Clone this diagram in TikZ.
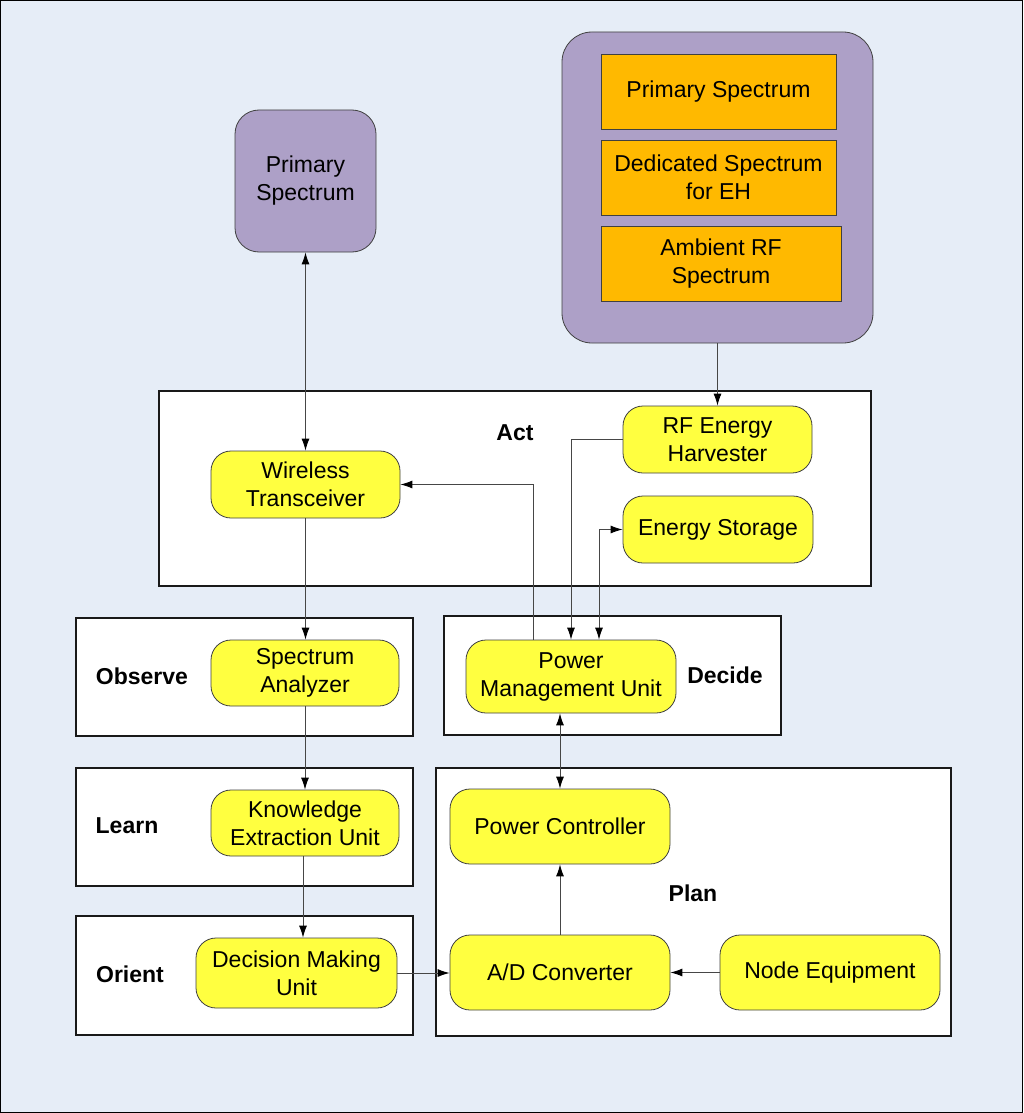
\documentclass[tikz,border=0pt]{standalone}
\usepackage{fontspec}
\setmainfont{Liberation Sans}
\usetikzlibrary{arrows.meta,calc}
\definecolor{bgc}{RGB}{230,237,247}
\definecolor{purp}{RGB}{173,160,199}
\definecolor{orng}{RGB}{255,185,0}
\definecolor{yelw}{RGB}{255,255,64}
\definecolor{linec}{RGB}{70,70,70}
\begin{document}
\begin{tikzpicture}[x=1pt,y=-1pt,
  txt/.style={font=\fontsize{23}{28}\selectfont, align=center, inner sep=0pt},
  ybox/.style={txt, draw=black!75, line width=0.8pt, fill=yelw, rounded corners=20pt},
  obox/.style={txt, draw=black!75, line width=0.8pt, fill=orng},
  pbox/.style={txt, draw=black!75, line width=0.8pt, fill=purp},
  grpbox/.style={draw=black!90, line width=1.6pt, fill=white, inner sep=0pt},
  lbl/.style={font=\fontsize{23}{28}\selectfont\bfseries, inner sep=0pt},
  arr/.style={draw=linec, line width=0.9pt, -{Latex[length=12pt,width=8pt,color=black]}},
  arrb/.style={draw=linec, line width=0.9pt, {Latex[length=12pt,width=8pt,color=black]}-{Latex[length=12pt,width=8pt,color=black]}}
]
\fill[bgc] (0,0) rectangle (1023,1113);
\useasboundingbox (0,0) rectangle (1023,1113);
\draw[black, line width=1pt] (0.5,0.5) rectangle (1022.5,1112.5);

% spectrum group
\node[pbox, rounded corners=30pt, minimum width=311pt, minimum height=311pt] (grp) at (717.5,187.5) {};
\node[obox, minimum width=235pt, minimum height=75pt] (o1) at (718.5,92) {Primary Spectrum};
\node[obox, minimum width=235pt, minimum height=75pt] (o2) at (718.5,177.5) {Dedicated Spectrum\\for EH};
\node[obox, minimum width=240pt, minimum height=75pt] (o3) at (721,263.5) {Ambient RF\\Spectrum};

\node[pbox, rounded corners=24pt, minimum width=141pt, minimum height=142pt] (ps) at (305.5,181) {Primary\\Spectrum};

% group boxes
\node[grpbox, minimum width=712pt, minimum height=195pt] (actb) at (515,488.5) {};
\node[grpbox, minimum width=337pt, minimum height=118pt] (obsb) at (244.5,677) {};
\node[grpbox, minimum width=337pt, minimum height=119pt] (decb) at (612.5,675.5) {};
\node[grpbox, minimum width=337pt, minimum height=118pt] (lrnb) at (244.5,827) {};
\node[grpbox, minimum width=337pt, minimum height=119pt] (orib) at (244.5,975.5) {};
\node[grpbox, minimum width=515pt, minimum height=268pt] (plnb) at (693.5,902) {};

% labels
\node[lbl] (lact) at (515,433) {Act};
\node[lbl] (lobs) at (142,676) {Observe};
\node[lbl] (ldec) at (725,675) {Decide};
\node[lbl] (llrn) at (127,826) {Learn};
\node[lbl] (lori) at (130,974) {Orient};
\node[lbl] (lpln) at (693,893) {Plan};

% yellow nodes
\node[ybox, minimum width=189pt, minimum height=67pt] (wt) at (305.5,484.5) {Wireless\\Transceiver};
\node[ybox, minimum width=189pt, minimum height=67pt] (rf) at (717.5,439.5) {RF Energy\\Harvester};
\node[ybox, minimum width=190pt, minimum height=67pt] (es) at (718,529.5) {Energy Storage};
\node[ybox, minimum width=188pt, minimum height=66pt] (sa) at (305,673) {Spectrum\\Analyzer};
\node[ybox, minimum width=210pt, minimum height=73pt] (pmu) at (571,676.5) {Power\\Management Unit};
\node[ybox, minimum width=188pt, minimum height=66pt] (keu) at (305,823) {Knowledge\\Extraction Unit};
\node[ybox, minimum width=201pt, minimum height=70pt] (dmu) at (296.5,973) {Decision Making\\Unit};
\node[ybox, minimum width=220pt, minimum height=75pt] (pc) at (560,826.5) {Power Controller};
\node[ybox, minimum width=220pt, minimum height=75pt] (ad) at (560,972.5) {A/D Converter};
\node[ybox, minimum width=220pt, minimum height=75pt] (ne) at (830,972.5) {Node Equipment};

% helper coordinates
\coordinate (kx) at (303,0);
\coordinate (cA) at (533,0);
\coordinate (cC) at (599,0);

% connectors
\draw[arrb] (ps.south) -- (ps.south |- wt.north);
\draw[arr] (grp.south) -- (grp.south |- rf.north);
\draw[arr] (wt.south) -- (wt.south |- sa.north);
\draw[arr] (sa.south) -- (keu.north);
\draw[arr] (keu.south -| kx) -- (dmu.north -| kx);
\draw[arr] (dmu.east) -- (dmu.east -| ad.west);
\draw[arr] (ne.west) -- (ad.east);
\draw[arr] (ad.north) -- (pc.south);
\draw[arrb] (pc.north) -- (pc.north |- pmu.south);
\draw[arr] (pmu.north -| cA) |- (wt.east);
\draw[arr] (rf.west) -| (pmu.north);
\draw[arrb] (pmu.north -| cC) |- (es.west);
\end{tikzpicture}
\end{document}
